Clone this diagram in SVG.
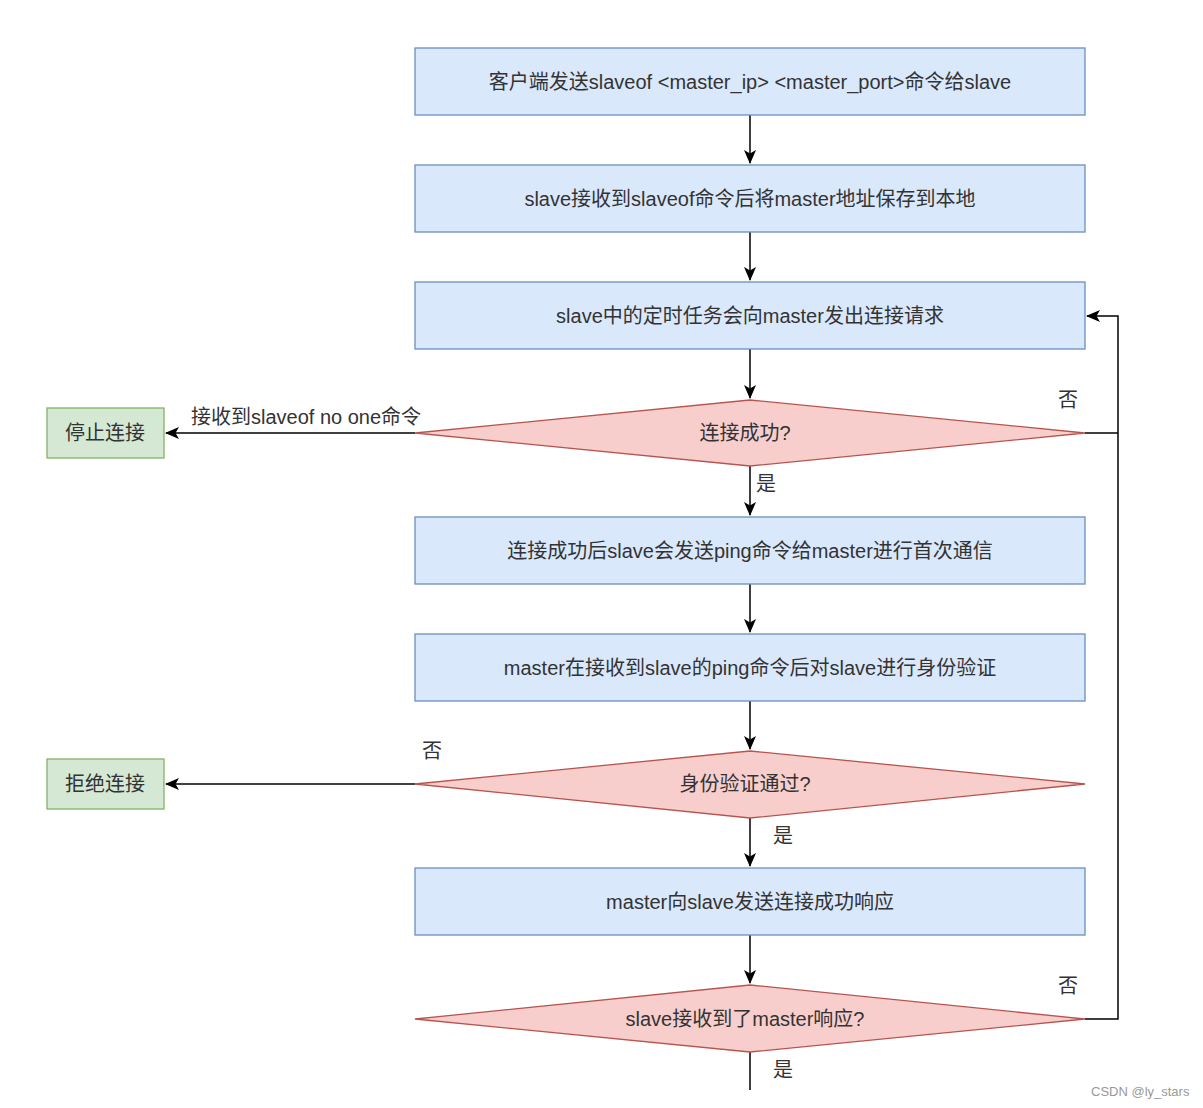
<svg xmlns="http://www.w3.org/2000/svg" width="1203" height="1108" viewBox="0 0 1203 1108">
<defs>
<marker id="arr" viewBox="0 0 14 12" refX="13" refY="6" markerWidth="14" markerHeight="12" markerUnits="userSpaceOnUse" orient="auto">
<path d="M0,0 L14,6 L0,12 L3.5,6 Z" fill="#000"/>
</marker>
</defs>
<style>
text{font-family:"Liberation Sans","Noto Sans CJK SC",sans-serif;font-size:20px;fill:#333;text-anchor:middle;dominant-baseline:central}
.b{fill:#dae8fc;stroke:#6c8ebf;stroke-width:1.3}
.d{fill:#f8cecc;stroke:#b85450;stroke-width:1.3}
.g{fill:#d5e8d4;stroke:#82b366;stroke-width:1.3}
.e{fill:none;stroke:#000;stroke-width:1.5}
.lbl{text-anchor:start}
.wm{font-size:13px;fill:#999;text-anchor:start}
</style>
<rect width="1203" height="1108" fill="#fff"/>
<g id="connectors">
<line class="e" x1="750" y1="115" x2="750" y2="163" marker-end="url(#arr)"/>
<line class="e" x1="750" y1="232" x2="750" y2="280" marker-end="url(#arr)"/>
<line class="e" x1="750" y1="349" x2="750" y2="398" marker-end="url(#arr)"/>
<line class="e" x1="415" y1="433" x2="166" y2="433" marker-end="url(#arr)"/>
<line class="e" x1="750" y1="466" x2="750" y2="515" marker-end="url(#arr)"/>
<line class="e" x1="750" y1="584" x2="750" y2="632" marker-end="url(#arr)"/>
<line class="e" x1="750" y1="701" x2="750" y2="749" marker-end="url(#arr)"/>
<line class="e" x1="415" y1="784" x2="166" y2="784" marker-end="url(#arr)"/>
<line class="e" x1="750" y1="818" x2="750" y2="866" marker-end="url(#arr)"/>
<line class="e" x1="750" y1="935" x2="750" y2="983" marker-end="url(#arr)"/>
<polyline class="e" points="1085,433 1118,433"/>
<polyline class="e" points="1085,1019 1118,1019 1118,316 1087,316" marker-end="url(#arr)"/>
<line class="e" x1="750" y1="1052" x2="750" y2="1090"/>
<text class="lbl" x="191" y="417">接收到slaveof no one命令</text>
<text x="1068" y="400">否</text>
<text x="766" y="484">是</text>
<text x="432" y="751">否</text>
<text x="783" y="836">是</text>
<text x="1068" y="986">否</text>
<text x="783" y="1070">是</text>
</g>
<g id="n1"><rect class="b" x="415" y="48" width="670" height="67"/><text x="750" y="82">客户端发送slaveof &lt;master_ip&gt; &lt;master_port&gt;命令给slave</text></g>
<g id="n2"><rect class="b" x="415" y="165" width="670" height="67"/><text x="750" y="199">slave接收到slaveof命令后将master地址保存到本地</text></g>
<g id="n3"><rect class="b" x="415" y="282" width="670" height="67"/><text x="750" y="316">slave中的定时任务会向master发出连接请求</text></g>
<g id="d1"><polygon class="d" points="750,400 1085,433 750,466 415,433"/><text x="745" y="433">连接成功?</text></g>
<g id="stop"><rect class="g" x="47" y="408" width="117" height="50"/><text x="105" y="433">停止连接</text></g>
<g id="n4"><rect class="b" x="415" y="517" width="670" height="67"/><text x="750" y="551">连接成功后slave会发送ping命令给master进行首次通信</text></g>
<g id="n5"><rect class="b" x="415" y="634" width="670" height="67"/><text x="750" y="668">master在接收到slave的ping命令后对slave进行身份验证</text></g>
<g id="d2"><polygon class="d" points="750,751 1085,784 750,818 415,784"/><text x="745" y="784">身份验证通过?</text></g>
<g id="reject"><rect class="g" x="47" y="759" width="117" height="50"/><text x="105" y="784">拒绝连接</text></g>
<g id="n6"><rect class="b" x="415" y="868" width="670" height="67"/><text x="750" y="902">master向slave发送连接成功响应</text></g>
<g id="d3"><polygon class="d" points="750,985 1085,1019 750,1052 415,1019"/><text x="745" y="1019">slave接收到了master响应?</text></g>
<text class="wm" x="1091" y="1091">CSDN @ly_stars</text>
</svg>
